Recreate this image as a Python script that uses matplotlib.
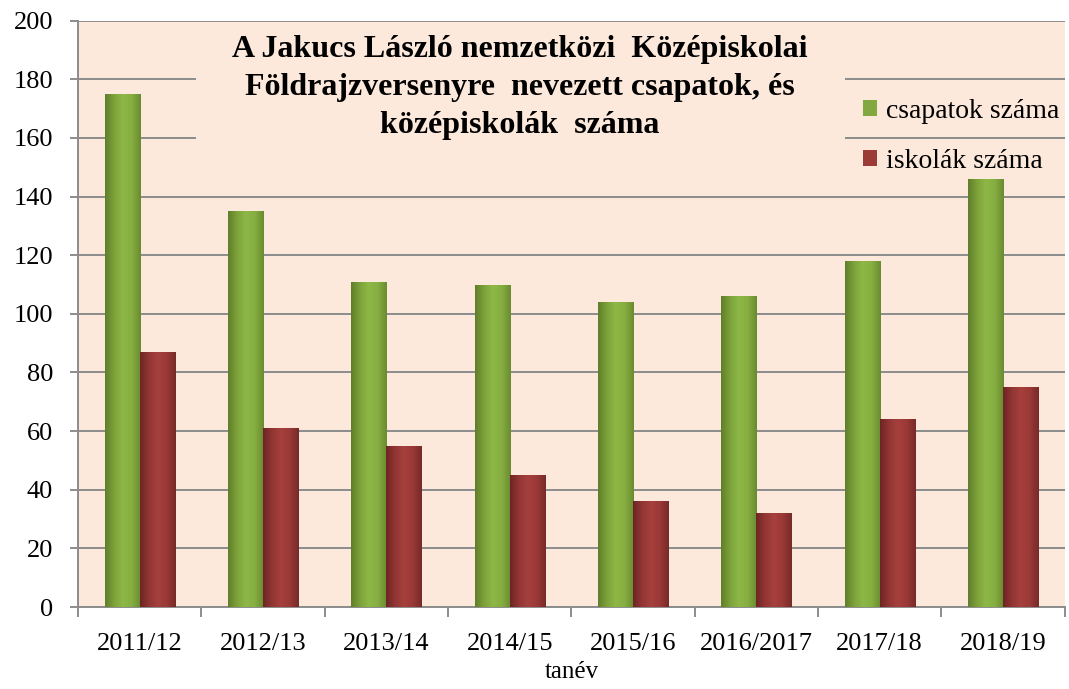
import numpy as np
import matplotlib

matplotlib.use("Agg")
import matplotlib.pyplot as plt
from matplotlib.colors import LinearSegmentedColormap
from matplotlib.patches import Patch, Rectangle

# data
years = ["2011/12", "2012/13", "2013/14", "2014/15", "2015/16", "2016/2017", "2017/18", "2018/19"]
csapatok = [175, 135, 111, 110, 104, 106, 118, 146]
iskolak = [87, 61, 55, 45, 36, 32, 64, 75]

plt.rcParams["font.family"] = ["Liberation Serif", "DejaVu Serif"]

BG = "#fde9dc"
GREEN = "#82a83f"
RED = "#9c3a38"
GRID = "#8c8c8c"

fig = plt.figure(figsize=(10.69, 6.89), dpi=100)
ax = fig.add_axes([0.073, 0.119, 0.923, 0.851])
ax.set_facecolor(BG)

x = np.arange(len(years))
w = 0.285

green_cm = LinearSegmentedColormap.from_list("g", ["#5f7f2a", "#7ea23a", "#8db846", "#86ae41", "#6a8c30"])
red_cm = LinearSegmentedColormap.from_list("r", ["#6e2524", "#923634", "#a5403d", "#9a3937", "#782a29"])
grad = np.linspace(0, 1, 64).reshape(1, -1)

for vals, off, col, cm in ((csapatok, -w / 2, GREEN, green_cm), (iskolak, w / 2, RED, red_cm)):
    bars = ax.bar(x + off, vals, width=w, color=col, edgecolor="none", zorder=3)
    for b in bars:
        x0, y0 = b.get_x(), b.get_y()
        im = ax.imshow(grad, cmap=cm, aspect="auto", zorder=3.1,
                       extent=(x0, x0 + b.get_width(), y0, y0 + b.get_height()))
        im.set_clip_path(b)

ax.set_xlim(-0.5, len(years) - 0.5)
ax.set_ylim(0, 200)
ax.set_yticks(range(0, 201, 20))
ax.grid(axis="y", color=GRID, linewidth=1.4, zorder=0)
ax.set_axisbelow(True)

ax.set_xticks(x)
ax.set_xticklabels(years, fontsize=19)
ax.set_xticks(np.arange(-0.5, len(years), 1), minor=True)
ax.tick_params(axis="x", which="major", length=0, pad=19)
ax.tick_params(axis="x", which="minor", length=7, color=GRID, width=1.4)
ax.tick_params(axis="y", length=6, color=GRID, width=1.4, labelsize=19, pad=12)

for s in ("top", "right"):
    ax.spines[s].set_visible(False)
for s in ("left", "bottom"):
    ax.spines[s].set_color(GRID)
    ax.spines[s].set_linewidth(1.4)

ax.set_xlabel("tanév", fontsize=18, labelpad=4)

# title area hides the grid lines behind it
ax.add_patch(Rectangle((0.12, 0.771), 0.657, 0.224, transform=ax.transAxes,
                       facecolor=BG, edgecolor="none", zorder=1))
ax.text(0.448, 0.976,
        "A Jakucs László nemzetközi  Középiskolai\nFöldrajzversenyre  nevezett csapatok, és\nközépiskolák  száma",
        transform=ax.transAxes, ha="center", va="top", fontsize=23, fontweight="bold",
        linespacing=1.42, zorder=2)

handles = [Patch(facecolor=GREEN, label="csapatok száma"),
           Patch(facecolor=RED, label="iskolák száma")]
ax.legend(handles=handles, loc="upper left", bbox_to_anchor=(0.796, 0.866), frameon=False,
          fontsize=20, handlelength=0.5, handleheight=0.5, handletextpad=0.3,
          labelspacing=0.9, borderaxespad=0, borderpad=0)

fig.savefig("out.png", dpi=100, facecolor="white")
